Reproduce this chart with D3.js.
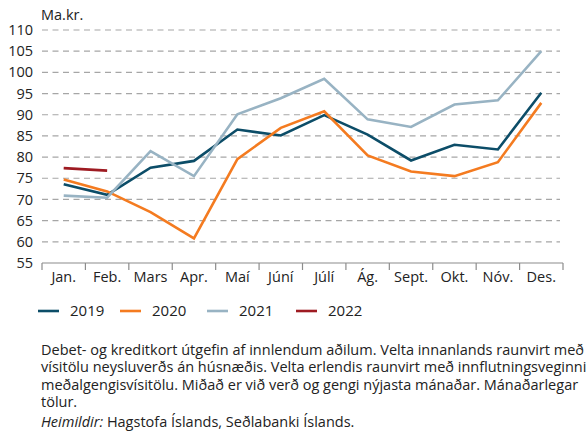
<!DOCTYPE html>
<html>
<head>
<meta charset="utf-8">
<script src="https://cdn.jsdelivr.net/npm/d3@7"></script>
<style>
  body { margin: 0; background: #fff; }
  svg { display: block; font-family: "Open Sans", "Noto Sans", sans-serif; }
</style>
</head>
<body>
<svg id="chart" width="588" height="432"></svg>
<script>
// Months on the x axis
const months = ["Jan.", "Feb.", "Mars", "Apr.", "Maí", "Júní", "Júlí", "Ág.", "Sept.", "Okt.", "Nóv.", "Des."];

// Values (Ma.kr.)
const values2019 = [73.6, 71.1, 77.5, 79.1, 86.5, 85.1, 89.9, 85.3, 79.2, 82.9, 81.8, 95.2];
const values2020 = [74.7, 71.9, 67.0, 60.8, 79.5, 86.9, 90.8, 80.4, 76.6, 75.5, 78.8, 92.8];
const values2021 = [70.9, 70.4, 81.4, 75.5, 90.1, 93.9, 98.5, 88.9, 87.1, 92.4, 93.4, 105.0];
const values2022 = [77.4, 76.8];

const yTicks = [55, 60, 65, 70, 75, 80, 85, 90, 95, 100, 105, 110];

const series = [
    { name: "2019", color: "#0c4d68", values: values2019 },
    { name: "2020", color: "#f47b20", values: values2020 },
    { name: "2021", color: "#98b3c3", values: values2021 },
    { name: "2022", color: "#9e1b22", values: values2022 }
];

const notes = [
    "Debet- og kreditkort útgefin af innlendum aðilum. Velta innanlands raunvirt með",
    "vísitölu neysluverðs án húsnæðis. Velta erlendis raunvirt með innflutningsveginni",
    "meðalgengisvísitölu. Miðað er við verð og gengi nýjasta mánaðar. Mánaðarlegar",
    "tölur."
];
const source = ["Heimildir:", " Hagstofa Íslands, Seðlabanki Íslands."];

const svg = d3.select("#chart");
const margin = { left: 42, right: 563, top: 30, bottom: 263 };

const x = d3.scaleBand()
    .domain(months)
    .range([margin.left, margin.right]);

const y = d3.scaleLinear()
    .domain([55, 110])
    .range([margin.bottom, margin.top]);

// Grid lines
svg.append("g")
    .selectAll("line")
    .data(yTicks.filter(d => d > 55))
    .enter()
    .append("line")
    .attr("x1", margin.left)
    .attr("x2", margin.right - 3)
    .attr("y1", d => y(d))
    .attr("y2", d => y(d))
    .attr("stroke", "#a6a6a6")
    .attr("stroke-width", 1.2)
    .attr("stroke-dasharray", "6,4.5");

// Y axis labels
svg.append("g")
    .selectAll("text")
    .data(yTicks)
    .enter()
    .append("text")
    .attr("x", 33)
    .attr("y", d => y(d))
    .attr("dy", "0.35em")
    .attr("text-anchor", "end")
    .attr("font-size", 14.5)
    .attr("fill", "#222")
    .text(d => d);

svg.append("text")
    .attr("x", 41)
    .attr("y", 20)
    .attr("font-size", 14.5)
    .attr("fill", "#222")
    .text("Ma.kr.");

// X axis
const xAxis = svg.append("g");
xAxis.append("line")
    .attr("x1", margin.left)
    .attr("x2", margin.right)
    .attr("y1", y(55))
    .attr("y2", y(55))
    .attr("stroke", "#8c8c8c")
    .attr("stroke-width", 1.2);

const boundaries = months.map(m => x(m)).concat([margin.right]);
xAxis.selectAll(".tick")
    .data(boundaries)
    .enter()
    .append("line")
    .attr("x1", d => d)
    .attr("x2", d => d)
    .attr("y1", y(55))
    .attr("y2", y(55) + 7)
    .attr("stroke", "#8c8c8c")
    .attr("stroke-width", 1.2);

xAxis.selectAll("text")
    .data(months)
    .enter()
    .append("text")
    .attr("x", d => x(d) + x.bandwidth() / 2)
    .attr("y", 282)
    .attr("text-anchor", "middle")
    .attr("font-size", 14.5)
    .attr("fill", "#222")
    .text(d => d);

// Lines
const line = d3.line()
    .x((d, i) => x(months[i]) + x.bandwidth() / 2)
    .y(d => y(d));

svg.append("g")
    .selectAll("path")
    .data(series)
    .enter()
    .append("path")
    .attr("d", d => line(d.values))
    .attr("fill", "none")
    .attr("stroke", d => d.color)
    .attr("stroke-width", 2.6)
    .attr("stroke-linejoin", "miter");

// Legend
const legendX = [38, 120, 207, 296];
const legend = svg.append("g")
    .selectAll("g")
    .data(series)
    .enter()
    .append("g")
    .attr("transform", (d, i) => `translate(${legendX[i]},311)`);

legend.append("line")
    .attr("x1", 0)
    .attr("x2", 21)
    .attr("stroke", d => d.color)
    .attr("stroke-width", 2.6);

legend.append("text")
    .attr("x", 32)
    .attr("dy", "0.35em")
    .attr("font-size", 15)
    .attr("fill", "#222")
    .text(d => d.name);

// Footnote
svg.append("g")
    .selectAll("text")
    .data(notes)
    .enter()
    .append("text")
    .attr("x", 41)
    .attr("y", (d, i) => 355 + i * 17.3)
    .attr("font-size", 14.5)
    .attr("fill", "#222")
    .text(d => d);

const src = svg.append("text")
    .attr("x", 41)
    .attr("y", 427)
    .attr("font-size", 14.5)
    .attr("fill", "#222");
src.append("tspan").attr("font-style", "italic").text(source[0]);
src.append("tspan").text(source[1]);
</script>
</body>
</html>
